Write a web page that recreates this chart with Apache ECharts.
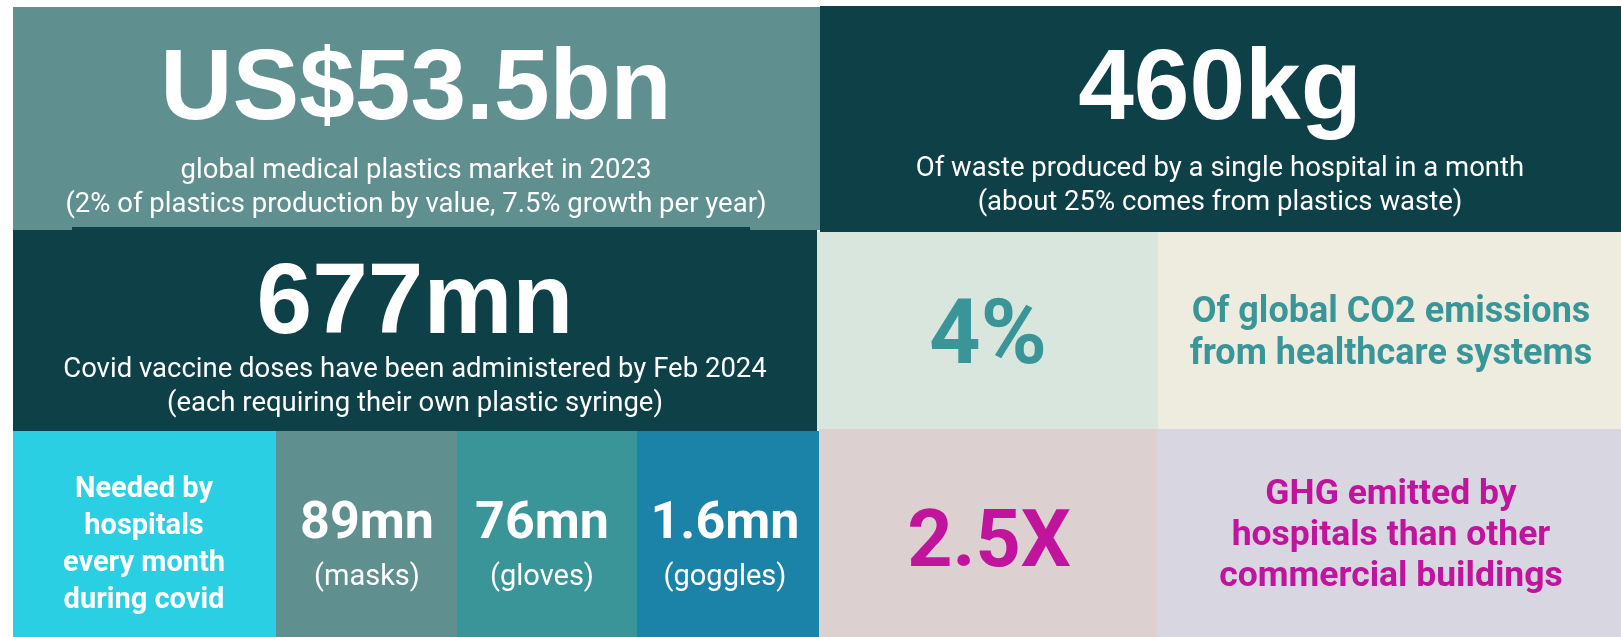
<!DOCTYPE html>
<html>
<head>
<meta charset="utf-8">
<script src="https://cdn.jsdelivr.net/npm/echarts@6/dist/echarts.min.js"></script>
<style>
  html, body { margin: 0; padding: 0; background: #fff; }
  #chart { width: 1621px; height: 637px; }
</style>
</head>
<body>
<div id="chart"></div>
<script>
// headline figures (top two rows)
const headlines = ['US$53.5bn', '460kg', '677mn']
const headlineNotes = [
  'global medical plastics market in 2023\n(2% of plastics production by value, 7.5% growth per year)',
  'Of waste produced by a single hospital in a month\n(about 25% comes from plastics waste)',
  'Covid vaccine doses have been administered by Feb 2024\n(each requiring their own plastic syringe)'
]
// PPE needed per month (bottom left)
const ppeIntro = 'Needed by\nhospitals\nevery month\nduring covid'
const ppeValues = ['89mn', '76mn', '1.6mn']
const ppeItems = ['(masks)', '(gloves)', '(goggles)']
// emissions (right side)
const emissionValues = ['4%', '2.5X']
const emissionNotes = [
  'Of global CO2 emissions\nfrom healthcare systems',
  'GHG emitted by\nhospitals than other\ncommercial buildings'
]

// tile layout: [x0, y0, x1, y1, color]
const tiles = [
  [13, 7, 820, 230, '#5f8f8e'],
  [820, 6, 1621, 232, '#0e4048'],
  [13, 230, 817, 432, '#0e4048'],
  [72, 227, 750, 230, '#0e4048'],
  [817, 232, 1158, 429, '#d9e6dd'],
  [1158, 232, 1621, 429, '#eeecde'],
  [819, 429, 1157, 637, '#ddd0d0'],
  [1157, 429, 1621, 637, '#d8d6e0'],
  [13, 431, 276, 637, '#2acfe4'],
  [276, 431, 457, 637, '#5f8f8e'],
  [457, 431, 637, 637, '#3a9599'],
  [637, 431, 819, 637, '#1c83a8']
]

const bigFont = '"Liberation Sans", Arial, sans-serif'
const textFont = 'Roboto, "Noto Sans", sans-serif'

function rect (t) {
  return {
    type: 'rect',
    shape: { x: t[0], y: t[1], width: t[2] - t[0], height: t[3] - t[1] },
    style: { fill: t[4] },
    silent: true
  }
}

function label (text, x, y, size, weight, color, family, lineHeight) {
  return {
    type: 'text',
    x: x,
    y: y,
    style: {
      text: text,
      fill: color,
      fontSize: size,
      fontWeight: weight,
      fontFamily: family,
      lineHeight: lineHeight || Math.round(size * 1.2),
      align: 'center',
      verticalAlign: 'middle'
    },
    silent: true
  }
}

const elements = tiles.map(rect)

// headline tiles
const headPos = [[416, 91, 188], [1220, 91, 186], [415, 305, 387]]
headlines.forEach((h, i) => {
  const p = headPos[i]
  elements.push(label(h, p[0], p[1], 100, 'bold', '#fff', bigFont))
  elements.push(label(headlineNotes[i], p[0], p[2], 27.5, 'normal', '#fff', textFont, 34))
})

// PPE tiles
elements.push(label(ppeIntro, 144, 545, 29, 'bold', '#fff', textFont, 37))
const ppeX = [367, 542, 725]
ppeValues.forEach((v, i) => {
  elements.push(label(v, ppeX[i], 525, 52, 'bold', '#fff', textFont))
  elements.push(label(ppeItems[i], ppeX[i], 578, 29, 'normal', '#fff', textFont))
})

// emission tiles
const emColor = ['#3a9599', '#c0149c']
elements.push(label(emissionValues[0], 988, 340, 90, 'bold', emColor[0], textFont))
elements.push(label(emissionNotes[0], 1391, 334, 36, 'bold', emColor[0], textFont, 42))
elements.push(label(emissionValues[1], 989, 546, 79, 'bold', emColor[1], textFont))
elements.push(label(emissionNotes[1], 1391, 536, 35.5, 'bold', emColor[1], textFont, 41))

const chart = echarts.init(document.getElementById('chart'))
chart.setOption({
  backgroundColor: '#fff',
  animation: false,
  graphic: { elements: elements }
})
</script>
</body>
</html>
